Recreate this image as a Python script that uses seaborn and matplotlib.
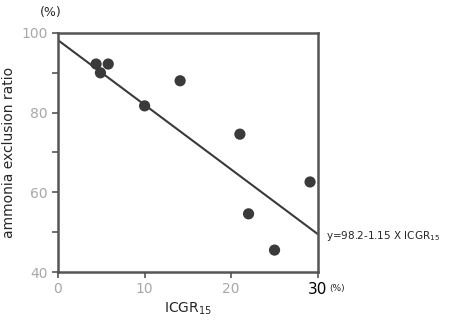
import numpy as np
import pandas as pd
import matplotlib
matplotlib.use("Agg")
import matplotlib.pyplot as plt
import seaborn as sns

# values
icgr15 = [4.4, 5.8, 4.9, 10.0, 14.1, 21.0, 22.0, 25.0, 29.1]
ammonia_ratio = [92.2, 92.2, 90.0, 81.7, 88.0, 74.6, 54.6, 45.5, 62.6]
fit_x = [0, 30]
fit_y = [98.2, 49.5]
x_ticks = [0, 10, 20, 30]
y_ticks = [40, 60, 80, 100]
y_minor = [50, 70, 90]

df = pd.DataFrame({"icgr15": icgr15, "ratio": ammonia_ratio})
fit = pd.DataFrame({"x": fit_x, "y": fit_y})

sns.set_style("white")
plt.rcParams['font.family'] = ['DejaVu Sans']

fig = plt.figure(figsize=(4.62, 3.2), dpi=100)
ax = fig.add_axes([0.1255, 0.15, 0.5625, 0.747])

sns.lineplot(data=fit, x="x", y="y", ax=ax, color="#3a3a3a", lw=1.5)
sns.scatterplot(data=df, x="icgr15", y="ratio", ax=ax, s=65,
                color="#3a3a3a", edgecolor="none", zorder=3)

ax.set_xlim(0, 30)
ax.set_ylim(40, 100)
ax.set_xticks(x_ticks)
ax.set_xticklabels([str(t) for t in x_ticks])
ax.set_yticks(y_ticks)
ax.set_yticks(y_minor, minor=True)
ax.tick_params(axis="both", which="both", direction="out", length=4,
               width=1.2, color="#555555", labelsize=10, labelcolor="#a8a8a8")
ax.tick_params(axis="both", which="both", left=True, bottom=True)
ax.get_xticklabels()[-1].set_color("black")
ax.get_xticklabels()[-1].set_fontsize(11)

for s in ax.spines.values():
    s.set_color("#555555")
    s.set_linewidth(1.8)

ax.set_xlabel("ICGR$_{15}$", fontsize=10, labelpad=2)
ax.set_ylabel("ammonia exclusion ratio", fontsize=10)
fig.text(0.087, 0.96, "(%)", fontsize=9, ha="left", va="center")
fig.text(0.712, 0.097, "(%)", fontsize=6.5, ha="left", va="center")
fig.text(0.705, 0.262, "y=98.2-1.15 X ICGR$_{15}$", fontsize=7.5,
         ha="left", va="center")

fig.savefig("out.png", dpi=100)
